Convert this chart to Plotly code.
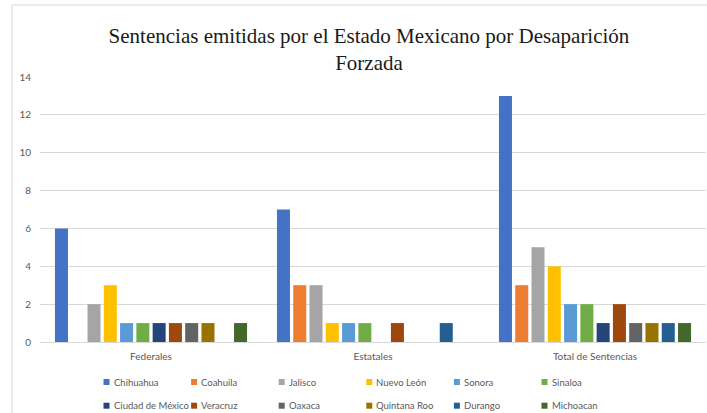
import plotly.graph_objects as go

categories = ["Federales", "Estatales", "Total de Sentencias"]
states = ["Chihuahua", "Coahuila", "Jalisco", "Nuevo León", "Sonora", "Sinaloa",
          "Ciudad de México", "Veracruz", "Oaxaca", "Quintana Roo", "Durango", "Michoacan"]
federales = [6, None, 2, 3, 1, 1, 1, 1, 1, 1, None, 1]
estatales = [7, 3, 3, 1, 1, 1, None, 1, None, None, 1, None]
totales = [13, 3, 5, 4, 2, 2, 1, 2, 1, 1, 1, 1]
colors = ["#4472C4", "#ED7D31", "#A5A5A5", "#FFC000", "#5B9BD5", "#70AD47",
          "#264478", "#9E480E", "#636363", "#997300", "#255E91", "#43682B"]
y_ticks = [0, 2, 4, 6, 8, 10, 12, 14]

W, H = 707, 413
ml, mr, mt, mb = 40, 1, 77, 71
pw, ph = W - ml - mr, H - mt - mb


def px_x(px):
    return (px - ml) / pw


def px_y(py):
    return (H - mb - py) / ph


fig = go.Figure()
for i, st in enumerate(states):
    fig.add_trace(go.Bar(
        name=st, x=categories,
        y=[federales[i], estatales[i], totales[i]],
        marker=dict(color=colors[i], line=dict(width=0)),
        showlegend=False,
    ))

# legend drawn as shapes + annotations (Excel-style compact layout)
shapes = [dict(
    type="rect", xref="paper", yref="paper",
    x0=px_x(12), x1=1.2, y0=-0.5, y1=px_y(5),
    line=dict(color="#d9d9d9", width=1), fillcolor="rgba(0,0,0,0)",
    layer="below",
)]
annotations = []
for i, st in enumerate(states):
    col, row = i % 6, i // 6
    cx = 106.5 + 87.6 * col
    cy = 382 + 23.7 * row
    shapes.append(dict(
        type="rect", xref="paper", yref="paper",
        x0=px_x(cx - 3), x1=px_x(cx + 3), y0=px_y(cy + 3), y1=px_y(cy - 3),
        fillcolor=colors[i], line=dict(width=0),
    ))
    annotations.append(dict(
        text=st, xref="paper", yref="paper", x=px_x(cx + 5), y=px_y(cy),
        xanchor="left", yanchor="middle", showarrow=False,
        font=dict(family="Lato", size=9.5, color="#595959"),
    ))

fig.update_layout(
    width=W, height=H,
    margin=dict(l=ml, r=mr, t=mt, b=mb),
    paper_bgcolor="white", plot_bgcolor="white",
    barmode="group", bargap=0.12, bargroupgap=0.2,
    showlegend=False,
    title=dict(
        text="Sentencias emitidas por el Estado Mexicano por Desaparición<br>Forzada",
        x=369 / W, xanchor="center", xref="container",
        y=1 - 43 / H, yanchor="top", yref="container",
        font=dict(family="Liberation Serif", size=21, color="#1a1a1a"),
    ),
    xaxis=dict(
        showgrid=False, showline=True, linecolor="#d9d9d9", linewidth=1,
        ticks="", tickfont=dict(family="Lato", size=10, color="#595959"),
        ticklabelstandoff=5,
    ),
    yaxis=dict(
        range=[0, 14], tickvals=y_ticks, showgrid=True, gridcolor="#d9d9d9",
        gridwidth=1, zeroline=False, showline=False, ticks="",
        tickfont=dict(family="Lato", size=10, color="#595959"),
        ticklabelstandoff=8,
    ),
    shapes=shapes,
    annotations=annotations,
)

fig.write_html("out.html", config={"displayModeBar": False},
               post_script="document.body.style.margin='0';")
